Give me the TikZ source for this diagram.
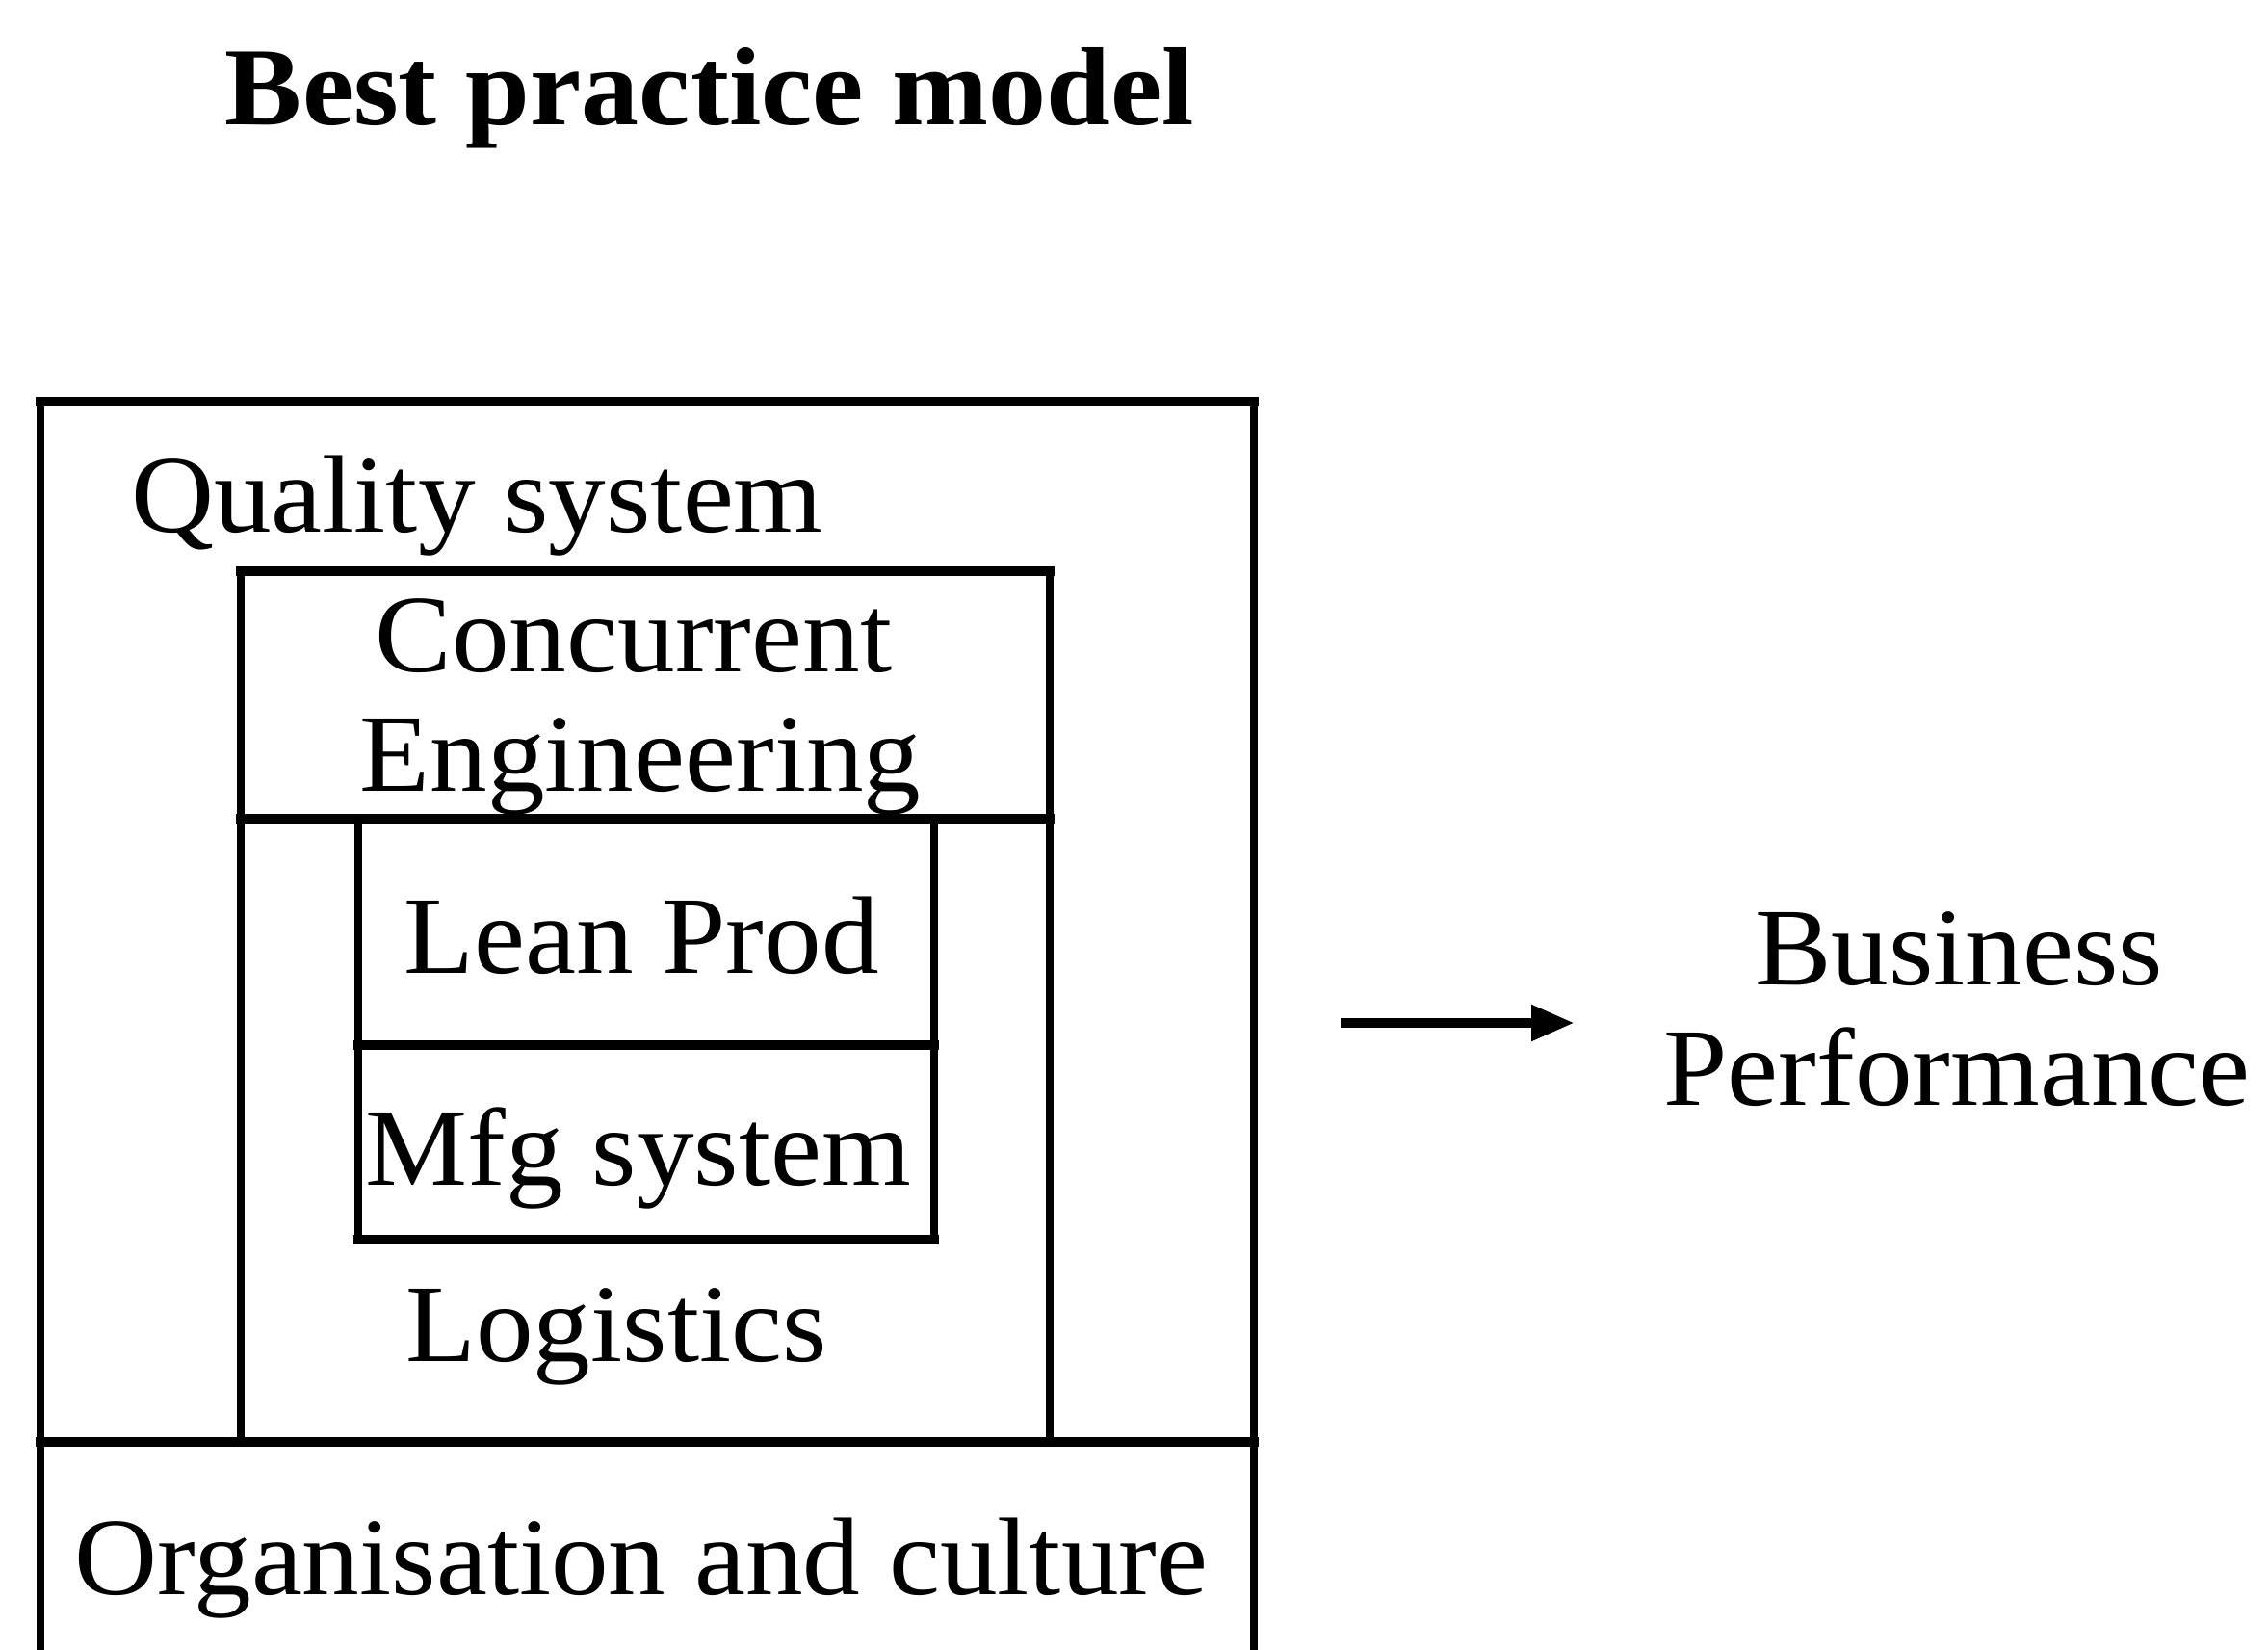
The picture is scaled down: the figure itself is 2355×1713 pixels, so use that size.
\documentclass[tikz,border=0pt]{standalone}
\usepackage{fontspec}
\setmainfont{Liberation Serif}[FakeStretch=1.04]
\usetikzlibrary{arrows.meta}
\begin{document}
\begin{tikzpicture}[x=0.01cm,y=-0.01cm,
  frame/.style={line width=2.3pt, line cap=rect},
  hline/.style={line width=3.1pt, line cap=rect},
  lbl/.style={inner sep=0pt, outer sep=0pt, anchor=base, font=\fontsize{32.6pt}{35.5pt}\selectfont},
  ttl/.style={inner sep=0pt, outer sep=0pt, anchor=base, font=\fontsize{32.8pt}{36pt}\selectfont\bfseries},
  conn/.style={line width=3pt, -{Triangle[length=12.8pt,width=10pt]}}]
\useasboundingbox (0,0) rectangle (2355,1713);

% title
\node[ttl] (title) at (737,130) {Best practice model};

% outer box (open at the bottom)
\draw[frame] (42,1725) -- (42,417) -- (1302,417) -- (1302,1725);
\draw[hline] (42,417) -- (1302,417);
% organisation line
\draw[hline] (42,1497) -- (1302,1497);

% concurrent engineering box
\draw[frame] (250,593) rectangle (1090,850);
\draw[hline] (250,593) -- (1090,593);
\draw[hline] (250,850) -- (1090,850);
% logistics box sides
\draw[frame] (250,850) -- (250,1497);
\draw[frame] (1090,850) -- (1090,1497);

% lean prod and mfg boxes
\draw[frame] (372,850) rectangle (970,1287);
\draw[hline] (372,1085) -- (970,1085);
\draw[hline] (372,1287) -- (970,1287);

% labels
\node[lbl, anchor=base west] (quality) at (136,553) {Quality system};
\node[lbl] (ce1) at (658,698) {Concurrent};
\node[lbl] (ce2) at (665,822) {Engineering};
\node[lbl] (lean) at (666,1010) {Lean Prod};
\node[lbl] (mfg) at (663,1230) {Mfg system};
\node[lbl] (logi) at (640,1413) {Logistics};
\node[lbl] (org) at (666,1655) {Organisation and culture};

\node[lbl] (bp1) at (2034,1022) {Business};
\node[lbl] (bp2) at (2032,1147) {Performance};

% arrow
\coordinate (arrS) at (1392,1062);
\coordinate (arrE) at (1635,1062);
\draw[conn] (arrS) -- (arrE);
\end{tikzpicture}
\end{document}
